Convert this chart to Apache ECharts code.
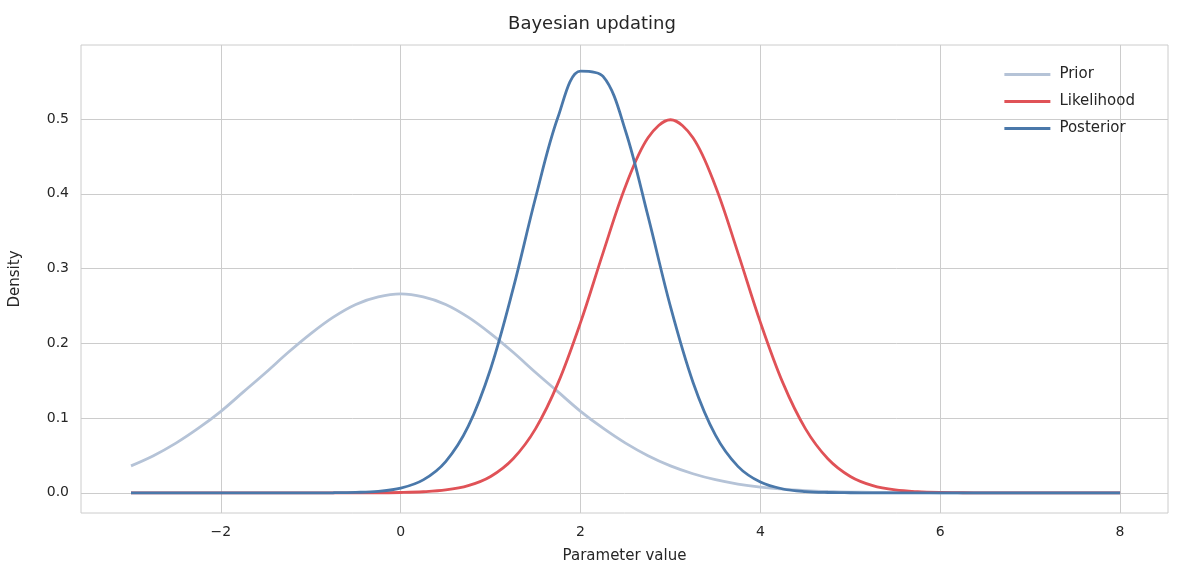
<!DOCTYPE html><html><head><meta charset="utf-8"><script src="https://cdn.jsdelivr.net/npm/echarts@6/dist/echarts.min.js"></script></head><body style="margin:0"><div id="c" style="width:1184px;height:584px"></div><script>
const xs=[-3,-2.75,-2.5,-2.25,-2,-1.75,-1.5,-1.25,-1,-0.75,-0.5,-0.25,0,0.25,0.5,0.75,1,1.25,1.5,1.75,2,2.25,2.5,2.75,3,3.25,3.5,3.75,4,4.25,4.5,4.75,5,5.25,5.5,5.75,6,6.25,6.5,6.75,7,7.25,7.5,7.75,8];
const prior=[0.036,0.0496,0.0664,0.0864,0.109,0.135,0.161,0.188,0.213,0.235,0.252,0.262,0.266,0.262,0.252,0.235,0.213,0.188,0.161,0.135,0.109,0.0864,0.0664,0.0496,0.036,0.0255,0.0175,0.0117,0.0076,0.0048,0.003,0.0018,0.001,0.0006,0.0003,0.0002,0.0001,0,0,0,0,0,0,0,0];
const likelihood=[0,0,0,0,0,0,0,0,0,0,0,0,0.0004,0.0014,0.0038,0.0096,0.0219,0.0456,0.0859,0.147,0.228,0.321,0.41,0.475,0.499,0.475,0.41,0.321,0.228,0.147,0.0859,0.0456,0.0219,0.0096,0.0038,0.0014,0.0004,0.0001,0,0,0,0,0,0,0];
const posterior=[0,0,0,0,0,0,0,0,0,0.0001,0.0006,0.002,0.0063,0.0173,0.0418,0.0888,0.166,0.273,0.395,0.503,0.564,0.557,0.484,0.37,0.249,0.148,0.0771,0.0354,0.0143,0.0051,0.0016,0.0004,0.0001,0,0,0,0,0,0,0,0,0,0,0,0];
const xTicks=[-2,0,2,4,6,8];
const yTicks=[0,0.1,0.2,0.3,0.4,0.5];
const pair=a=>xs.map((x,i)=>[x,a[i]]);
const F='DejaVu Sans';
const c=echarts.init(document.getElementById('c'));
const grey='#cccccc';
c.setOption({animation:false,backgroundColor:'#fff',
title:{text:'Bayesian updating',left:'center',top:10,textStyle:{fontFamily:F,fontSize:18,fontWeight:'normal',color:'#262626'}},
legend:{right:44,top:62,orient:'vertical',itemGap:12,itemWidth:46,itemHeight:12,icon:'path://M0,0H10V0.6H0Z',textStyle:{fontFamily:F,fontSize:15,color:'#262626',padding:[0,0,0,4]},data:['Prior','Likelihood','Posterior']},
grid:{left:80,right:16,top:45,bottom:71,show:true,borderColor:grey,borderWidth:1},
xAxis:{type:'value',min:-3.556,max:8.533,name:'Parameter value',nameLocation:'middle',nameGap:36,nameTextStyle:{fontFamily:F,fontSize:15,color:'#262626'},
axisLine:{show:false},axisTick:{show:false,customValues:xTicks},
axisLabel:{customValues:xTicks,fontFamily:F,fontSize:14,color:'#262626',margin:12,formatter:v=>String(v).replace('-','\u2212')},
splitLine:{show:true,lineStyle:{color:grey,width:1}}},
yAxis:{type:'value',min:-0.027,max:0.599,name:'Density',nameLocation:'middle',nameGap:58,nameTextStyle:{fontFamily:F,fontSize:15,color:'#262626'},
axisLine:{show:false},axisTick:{show:false,customValues:yTicks},
axisLabel:{customValues:yTicks,fontFamily:F,fontSize:14,color:'#262626',margin:12,formatter:v=>v.toFixed(1)},
splitLine:{show:true,lineStyle:{color:grey,width:1}}},
series:[
{name:'Prior',type:'line',data:pair(prior),smooth:0.35,showSymbol:false,lineStyle:{width:2.8,color:'#b5c3d7'},itemStyle:{color:'#b5c3d7'}},
{name:'Likelihood',type:'line',data:pair(likelihood),smooth:0.35,showSymbol:false,lineStyle:{width:2.8,color:'#e05257'},itemStyle:{color:'#e05257'}},
{name:'Posterior',type:'line',data:pair(posterior),smooth:0.35,showSymbol:false,lineStyle:{width:2.8,color:'#4a78aa'},itemStyle:{color:'#4a78aa'}}]});
</script></body></html>
